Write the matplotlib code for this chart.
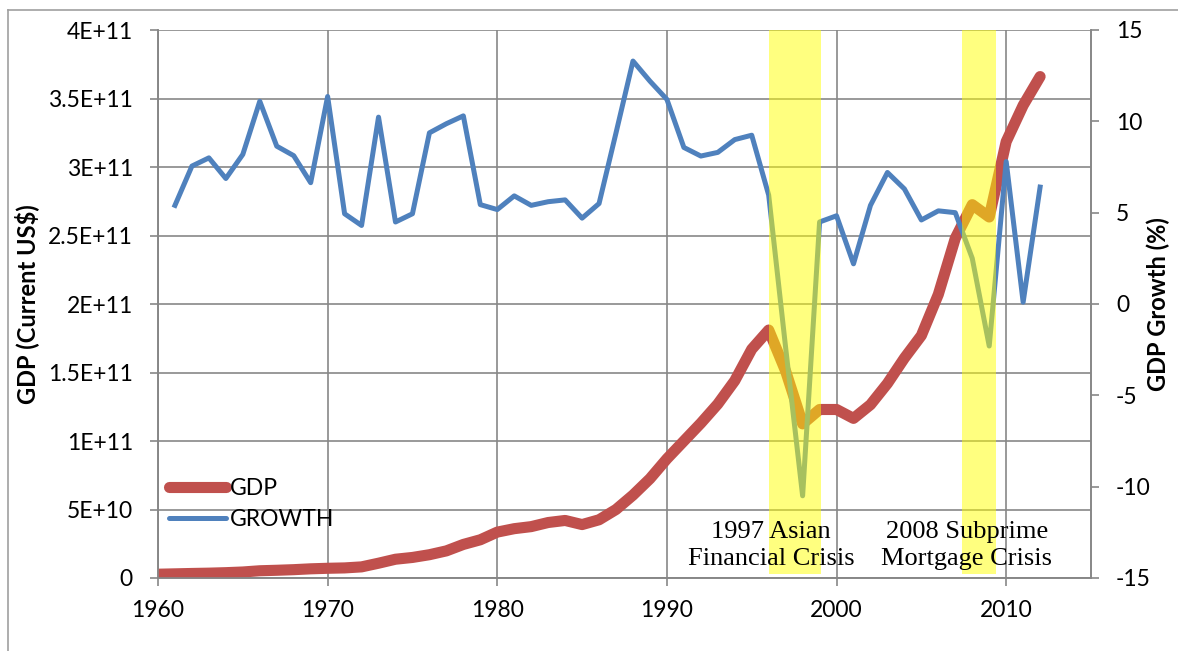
import matplotlib
matplotlib.use("Agg")
import numpy as np
import matplotlib.pyplot as plt
from matplotlib.lines import Line2D

# data (Thailand-like GDP series)
years = list(range(1960, 2013))
gdp_bn = [2.76, 3.03, 3.31, 3.54, 3.89, 4.39, 5.28, 5.64, 6.08, 6.70,
          7.09, 7.36, 8.12, 10.8, 13.7, 15.0, 17.0, 19.8, 24.5, 27.9,
          33.5, 36.0, 37.5, 40.5, 42.0, 39.0, 42.5, 50.0, 60.5, 72.5,
          87.0, 100.0, 113.0, 127.0, 144.0, 167.0, 181.0, 151.0, 112.5, 123.0,
          123.0, 116.5, 126.5, 142.0, 160.5, 177.0, 207.0, 248.0, 272.5, 263.5,
          318.5, 345.0, 366.0]
growth_years = list(range(1961, 2013))
growth = [5.4, 7.55, 8.0, 6.87, 8.19, 11.1, 8.64, 8.12, 6.64, 11.36,
          4.94, 4.3, 10.23, 4.49, 4.94, 9.37, 9.87, 10.3, 5.44, 5.17,
          5.92, 5.4, 5.6, 5.7, 4.7, 5.5, 9.37, 13.3, 12.2, 11.2,
          8.57, 8.1, 8.3, 9.0, 9.24, 5.96, -2.4, -10.5, 4.49, 4.83,
          2.2, 5.4, 7.2, 6.3, 4.6, 5.1, 5.0, 2.5, -2.3, 7.8,
          0.1, 6.4]

left_ticks = [0, 5e10, 1e11, 1.5e11, 2e11, 2.5e11, 3e11, 3.5e11, 4e11]
left_labels = ['0', '5E+10', '1E+11', '1.5E+11', '2E+11', '2.5E+11', '3E+11', '3.5E+11', '4E+11']
right_ticks = [-15, -10, -5, 0, 5, 10, 15]
x_ticks = [1960, 1970, 1980, 1990, 2000, 2010]

crises = [(1996.0, 1999.1, 1996.15, '1997 Asian\nFinancial Crisis'),
          (2007.4, 2009.4, 2007.67, '2008 Subprime\nMortgage Crisis')]

plt.rcParams['font.family'] = ['Lato', 'DejaVu Sans']
plt.rcParams['axes.unicode_minus'] = False
grid_c = '#878787'
tick_fs = 16.5

fig = plt.figure(figsize=(11.78, 6.51), dpi=100)
ax = fig.add_axes([158/1178, 1-578/651, (1091-158)/1178, (578-30)/651])
ax2 = ax.twinx()

gdp = np.array(gdp_bn) * 1e9
ax.plot(years, gdp, color='#C0504D', lw=8, solid_capstyle='round', solid_joinstyle='round', zorder=3)
ax2.plot(growth_years, growth, color='#4F81BD', lw=3.6, solid_joinstyle='round', zorder=3)

ax.set_xlim(1960, 2015)
ax.set_ylim(0, 4e11)
ax2.set_ylim(-15, 15)
ax.set_xticks(x_ticks)
ax.set_yticks(left_ticks)
ax.set_yticklabels(left_labels)
ax2.set_yticks(right_ticks)

ax.grid(True, color=grid_c, lw=1.2)
ax.set_axisbelow(True)
for a in (ax, ax2):
    for s in a.spines.values():
        s.set_color(grid_c)
        s.set_linewidth(1.2)
    a.spines['top'].set_visible(False)
ax.tick_params(axis='y', labelsize=tick_fs, length=6, width=1.2, color=grid_c, pad=12)
ax.tick_params(axis='x', labelsize=tick_fs, length=6, width=1.2, color=grid_c, pad=10)
ax2.tick_params(axis='y', labelsize=tick_fs, length=6, width=1.2, color=grid_c, pad=12)

ax.set_ylabel('GDP (Current US$)', fontsize=17, fontweight='bold')
ax.yaxis.set_label_coords(-0.128, 0.5)
ax2.set_ylabel('GDP Growth (%)', fontsize=17, fontweight='bold')
ax2.yaxis.set_label_coords(1.059, 0.5)

for x0, x1, xt, label in crises:
    ax2.axvspan(x0, x1, ymin=0.008, ymax=1, color='#FFFF00', alpha=0.5, lw=0, zorder=5)
    ax2.text(xt, -13.2, label, ha='center', va='center', fontsize=19,
             family=['Liberation Serif'], linespacing=1.3, zorder=6)

handles = [Line2D([], [], color='#C0504D', lw=8, solid_capstyle='round'),
           Line2D([], [], color='#4F81BD', lw=3.6, solid_capstyle='round')]
ax2.legend(handles, ['GDP', 'GROWTH'], loc='upper left', bbox_to_anchor=(0.007, 0.19),
           frameon=False, fontsize=tick_fs, handlelength=2.5, handletextpad=0.15,
           labelspacing=0.42, borderaxespad=0.0, borderpad=0.2)

# outer chart border
fig.add_artist(Line2D([8/1178, 1.0], [1-10/651, 1-10/651], color='#a0a0a0', lw=1.2, transform=fig.transFigure))
fig.add_artist(Line2D([8/1178, 8/1178], [0.0, 1-10/651], color='#a0a0a0', lw=1.2, transform=fig.transFigure))

fig.savefig('out.png', dpi=100)
